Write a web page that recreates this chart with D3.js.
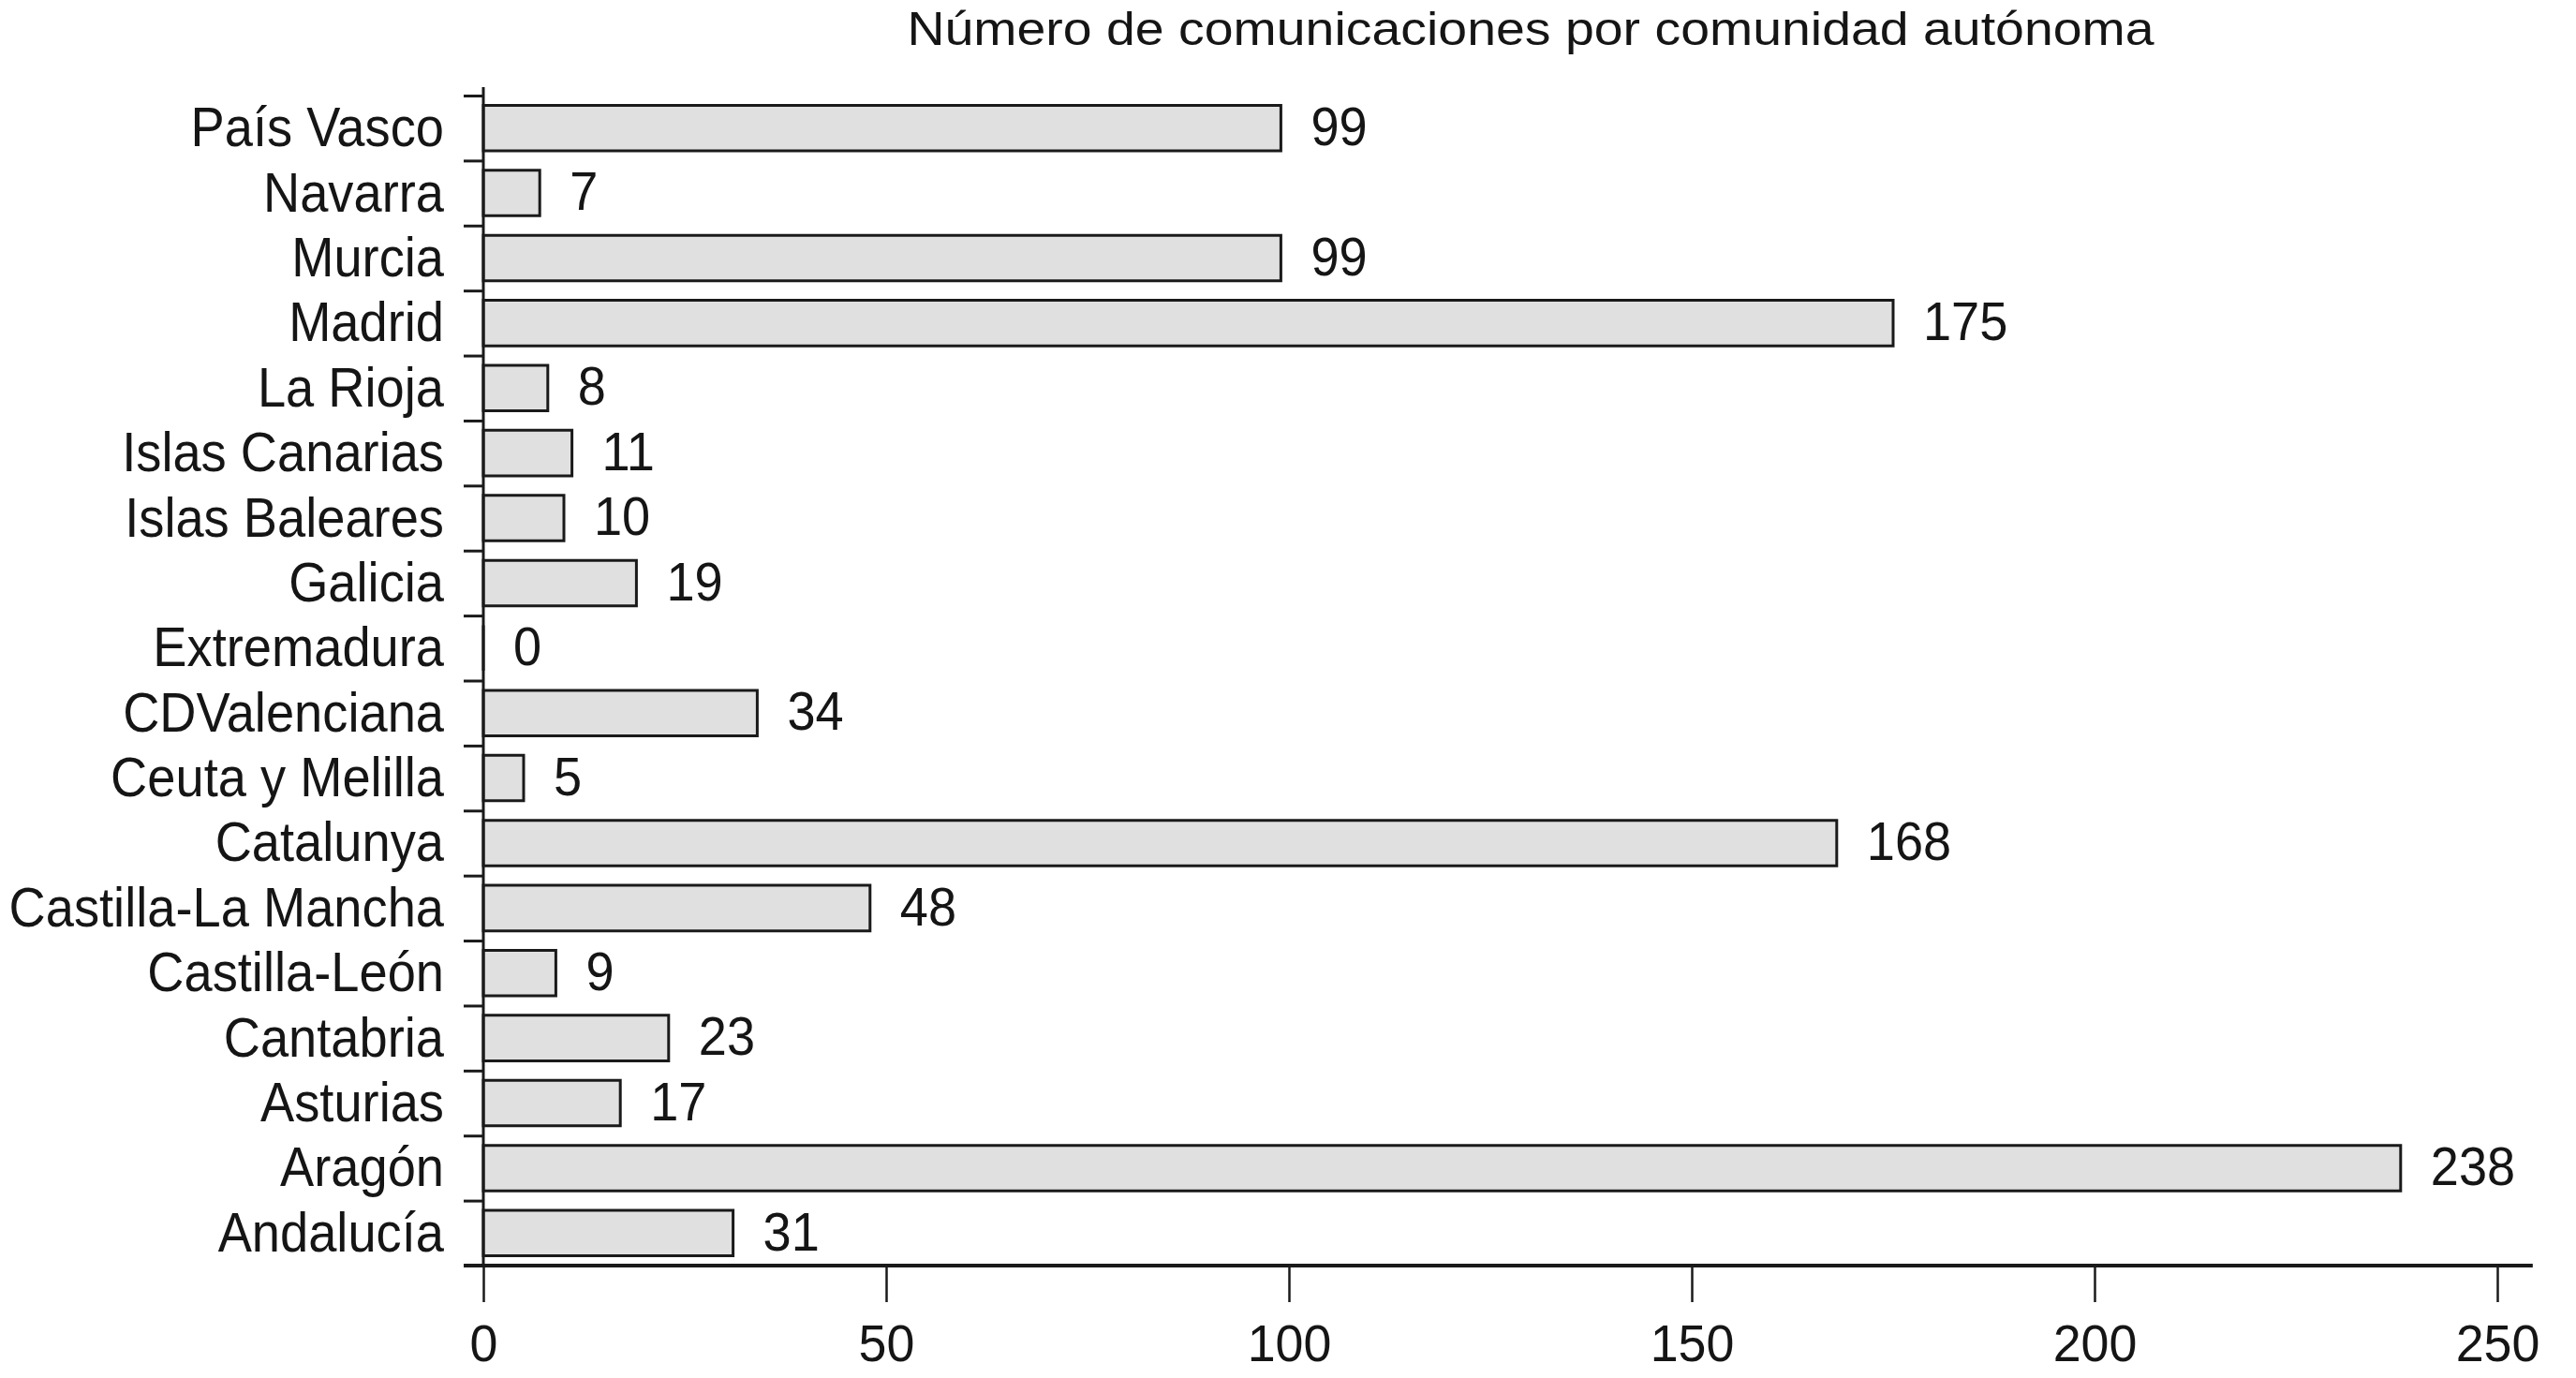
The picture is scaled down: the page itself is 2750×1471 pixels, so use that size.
<!DOCTYPE html>
<html>
<head>
<meta charset="utf-8">
<script src="https://cdn.jsdelivr.net/npm/d3@7"></script>
<style>
  html, body { margin: 0; padding: 0; background: #ffffff; }
  svg { display: block; }
  text { font-family: "Liberation Sans", Arial, Helvetica, sans-serif; fill: #151515; }
</style>
</head>
<body>
<script>
const title = "Número de comunicaciones por comunidad autónoma";
const categories = ["País Vasco", "Navarra", "Murcia", "Madrid", "La Rioja", "Islas Canarias",
  "Islas Baleares", "Galicia", "Extremadura", "CDValenciana", "Ceuta y Melilla", "Catalunya",
  "Castilla-La Mancha", "Castilla-León", "Cantabria", "Asturias", "Aragón", "Andalucía"];
const values = [99, 7, 99, 175, 8, 11, 10, 19, 0, 34, 5, 168, 48, 9, 23, 17, 238, 31];
const xTicks = [0, 50, 100, 150, 200, 250];

const W = 2750, H = 1471;
const mLeft = 516, mRight = 2666, mTop = 102, mBottom = 1351;
const FONT = '"Liberation Sans", Arial, Helvetica, sans-serif';

const svg = d3.select("body").append("svg").attr("width", W).attr("height", H);

const x = d3.scaleLinear().domain([0, 250]).range([mLeft, mRight]);
const y = d3.scaleBand().domain(categories).range([mTop, mBottom]).paddingInner(0.3).paddingOuter(0.15);
const yIdx = d3.scaleLinear().domain([0, categories.length]).range([mTop, mBottom]);

// title
svg.append("text")
  .attr("transform", "translate(1634,48) scale(1.12,1)")
  .attr("text-anchor", "middle")
  .style("font-size", "49.5px")
  .text(title);

// bars (paths so a zero value still shows as a line)
const data = categories.map((c, i) => ({ c, v: values[i] }));
svg.append("g").selectAll("path").data(data).join("path")
  .attr("d", d => {
    const x0 = x(0), x1 = x(d.v), y0 = y(d.c), h = y.bandwidth();
    return `M${x0},${y0}H${x1}V${y0 + h}H${x0}Z`;
  })
  .attr("fill", "#e0e0e0")
  .attr("stroke", "#1a1a1a")
  .attr("stroke-width", 3);

// value labels
svg.append("g").selectAll("text").data(data).join("text")
  .attr("transform", d => `translate(${x(d.v) + 32},${y(d.c) + y.bandwidth() / 2}) scale(0.95,1)`)
  .attr("dy", "0.32em")
  .style("font-size", "57px")
  .text(d => d.v);

// y axis: ticks at band boundaries
const yAxis = d3.axisLeft(yIdx).tickValues(d3.range(0, categories.length)).tickSize(21).tickFormat("");
const gy = svg.append("g").attr("transform", `translate(${mLeft},0)`).call(yAxis);
gy.select(".domain").remove();
gy.selectAll(".tick line").attr("stroke", "#1a1a1a").attr("stroke-width", 3);
svg.append("line").attr("x1", mLeft).attr("x2", mLeft).attr("y1", mTop - 9).attr("y2", mBottom)
  .attr("stroke", "#1a1a1a").attr("stroke-width", 3);

// category labels
const gl = svg.append("g").attr("transform", `translate(${mLeft},0)`)
  .call(d3.axisLeft(y).tickSize(0).tickPadding(0));
gl.select(".domain").remove();
gl.selectAll(".tick text")
  .attr("x", 0)
  .attr("dy", "0.33em")
  .attr("transform", "translate(-42,0) scale(0.92,1)")
  .attr("fill", "#151515")
  .style("font-size", "59px")
  .style("font-family", FONT);

// x axis
const gx = svg.append("g").attr("transform", `translate(0,${mBottom})`)
  .call(d3.axisBottom(x).tickValues(xTicks).tickSize(39).tickPadding(23).tickFormat(d3.format("d")));
gx.select(".domain").remove();
gx.selectAll(".tick line").attr("stroke", "#1a1a1a").attr("stroke-width", 2.5);
gx.selectAll(".tick text").attr("fill", "#151515")
  .attr("transform", "scale(0.96,1)")
  .style("font-size", "56px")
  .style("font-family", FONT);
svg.append("line").attr("x1", mLeft - 21).attr("x2", x(254.4)).attr("y1", mBottom).attr("y2", mBottom)
  .attr("stroke", "#1a1a1a").attr("stroke-width", 4);
</script>
</body>
</html>
